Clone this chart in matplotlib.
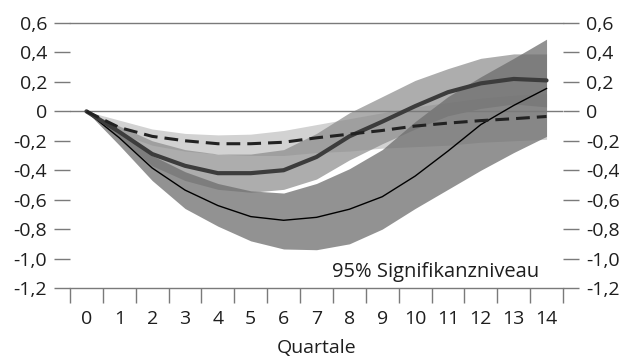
import matplotlib
matplotlib.use("Agg")
import matplotlib.pyplot as plt
import numpy as np

# -------------------------------
# DATA
# -------------------------------
quarters = list(range(15))

# dashed series with light band
dash_mid = [0, -0.11, -0.17, -0.20, -0.22, -0.22, -0.21, -0.18, -0.155, -0.13, -0.10, -0.08, -0.063, -0.05, -0.035]
dash_hi = [0, -0.06, -0.12, -0.15, -0.16, -0.155, -0.13, -0.09, -0.05, -0.01, 0.03, 0.06, 0.09, 0.11, 0.12]
dash_lo = [0, -0.15, -0.23, -0.27, -0.29, -0.30, -0.30, -0.28, -0.27, -0.25, -0.24, -0.23, -0.21, -0.20, -0.19]

# thick series with medium band
thick_mid = [0, -0.14, -0.29, -0.37, -0.42, -0.42, -0.40, -0.31, -0.17, -0.07, 0.035, 0.13, 0.19, 0.22, 0.21]
thick_hi = [0, -0.10, -0.20, -0.26, -0.29, -0.29, -0.26, -0.15, -0.01, 0.10, 0.21, 0.29, 0.36, 0.39, 0.39]
thick_lo = [0, -0.18, -0.37, -0.47, -0.53, -0.55, -0.53, -0.46, -0.33, -0.22, -0.12, -0.03, 0.02, 0.05, 0.03]

# thin series with dark band
thin_mid = [0, -0.18, -0.385, -0.535, -0.64, -0.715, -0.74, -0.72, -0.665, -0.58, -0.44, -0.27, -0.09, 0.04, 0.155]
thin_hi = [0, -0.14, -0.30, -0.41, -0.49, -0.54, -0.555, -0.49, -0.39, -0.26, -0.07, 0.10, 0.235, 0.36, 0.49]
thin_lo = [0, -0.23, -0.47, -0.66, -0.78, -0.88, -0.935, -0.94, -0.90, -0.80, -0.66, -0.53, -0.40, -0.28, -0.17]

y_ticks = [0.6, 0.4, 0.2, 0, -0.2, -0.4, -0.6, -0.8, -1.0, -1.2]
y_labels = ["0,6", "0,4", "0,2", "0", "-0,2", "-0,4", "-0,6", "-0,8", "-1,0", "-1,2"]

plt.rcParams["font.family"] = ["Open Sans", "DejaVu Sans"]

fig = plt.figure(figsize=(6.19, 3.61), dpi=100)
ax = fig.add_axes([0.1131, 0.2022, 0.7964, 0.7341])

line_col = "#7a7a7a"
text_col = "#1e1e1e"

# ===============================
# BANDS
# ===============================
ax.fill_between(quarters, dash_lo, dash_hi, color="#b4b4b4", alpha=0.6, lw=0, zorder=1)
ax.fill_between(quarters, thick_lo, thick_hi, color="#8a8a8a", alpha=0.7, lw=0, zorder=2)
ax.fill_between(quarters, thin_lo, thin_hi, color="#6e6e6e", alpha=0.75, lw=0, zorder=3)

ax.axhline(0, color=line_col, lw=1, zorder=4)

# ===============================
# LINES
# ===============================
ax.plot(quarters, thin_mid, color="black", lw=1, zorder=5)
ax.plot(quarters, thick_mid, color="#3c3c3c", lw=3, solid_capstyle="round", zorder=6)
ax.plot(quarters, dash_mid, color="#222222", lw=2.2, dashes=(4.5, 2.3), zorder=7)

# ===============================
# AXES
# ===============================
ax.set_xlim(-0.5, 14.5)
ax.set_ylim(-1.2, 0.6)

for side in ["left", "right", "top", "bottom"]:
    ax.spines[side].set_color(line_col)
    ax.spines[side].set_linewidth(1)
ax.spines["left"].set_visible(False)
ax.spines["right"].set_visible(False)

ax.set_xticks(quarters)
ax.set_xticklabels([str(q) for q in quarters])
ax.set_xticks(np.arange(-0.5, 15, 1), minor=True)
ax.tick_params(axis="x", which="major", length=0, pad=16, labelsize=14, colors=text_col)
ax.tick_params(axis="x", which="minor", length=11, width=1, color=line_col, direction="out")

ax.set_yticks(y_ticks)
ax.set_yticklabels(y_labels)
ax.tick_params(axis="y", which="major", left=True, right=True, labelleft=True, labelright=True,
               length=11.5, width=1, color=line_col, direction="out", pad=5,
               labelsize=14, labelcolor=text_col)

ax.set_xlabel("Quartale", fontsize=14, color=text_col, labelpad=8)

ax.text(0.951, 0.062, "95% Signifikanzniveau", transform=ax.transAxes,
        ha="right", va="center", fontsize=14.5, color=text_col, zorder=8)

fig.savefig("out.png", dpi=100)
